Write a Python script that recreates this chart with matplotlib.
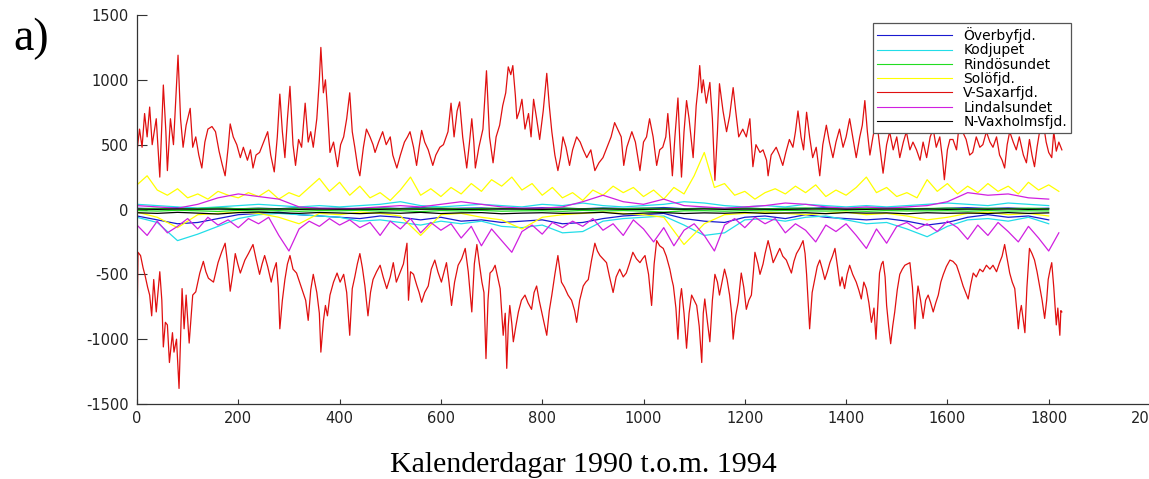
import matplotlib
matplotlib.use("Agg")
import matplotlib.pyplot as plt

plt.rcParams['axes.unicode_minus'] = False  # MATLAB-stil: vanligt bindestreck

# ── Flöden per sund, dag 0..1826 (1990 t.o.m. 1994) ──
names = ['Överbyfjd.', 'Kodjupet', 'Rindösundet', 'Solöfjd.',
         'V-Saxarfjd.', 'Lindalsundet', 'N-Vaxholmsfjd.']
colors = ['#1a1ad0', '#22dde8', '#22dd22', '#ffff00',
          '#e01010', '#d020e0', '#000000']

days20 = list(range(0, 1827, 20))   # samplingsdagar, tätare serier
days40 = list(range(0, 1827, 40))   # samplingsdagar, glesare serier

overby_in = [10, 5, 15, 8, 12, 5, 10, 6, 14, 8, 10, 5, 12, 8, 15, 6, 10, 12, 5, 8,
             14, 10, 6, 12, 8, 10, 15, 6, 10, 8, 12, 5, 10, 8, 14, 6, 10, 12, 8, 5,
             10, 14, 8, 12, 6, 10]
overby_out = [-50, -80, -110, -100, -70, -40, -30, -20, -40, -50,
              -60, -70, -50, -60, -80, -60, -90, -80, -100, -90,
              -80, -110, -100, -70, -50, -40, -30, -70, -90, -100,
              -60, -50, -70, -40, -60, -70, -80, -70, -90, -120,
              -100, -60, -40, -60, -50, -80]

kod_in = [40, 30, 20, 10, 20, 30, 40, 30, 20, 30, 20, 30, 40, 60, 30, 20, 30, 40, 30, 20,
          40, 30, 50, 30, 20, 30, 40, 60, 50, 30, 20, 30, 20, 40, 30, 20, 30, 20, 30, 40,
          50, 40, 30, 50, 40, 30]
kod_out = [-60, -100, -240, -190, -130, -70, -40, -30, -40, -50,
           -60, -90, -80, -100, -120, -90, -110, -90, -130, -140,
           -120, -180, -170, -90, -70, -60, -50, -120, -200, -180,
           -80, -70, -90, -60, -50, -80, -110, -100, -150, -210,
           -130, -80, -70, -90, -60, -110]

rind_in = [5, 10, 4, 8, 12, 6, 9, 5, 11, 7, 8, 4, 10, 6, 9, 12, 5, 8, 10, 6,
           7, 11, 5, 9, 6, 10, 8, 4, 9, 7, 10, 6, 8, 12, 5, 9, 7, 10, 6, 8,
           11, 5, 9, 7, 10, 6]
rind_out = [-8, -12, -6, -10, -15, -7, -11, -9, -14, -8, -10, -6, -12, -9, -16, -8, -11, -7, -13, -10,
            -9, -14, -7, -11, -8, -12, -20, -10, -9, -13, -8, -11, -7, -10, -12, -9, -14, -8, -11, -10,
            -9, -13, -8, -12, -10, -11]

solo_in = [190, 260, 150, 110, 160, 90, 120, 80, 140, 110,
           90, 130, 100, 150, 80, 130, 100, 170, 240, 140,
           210, 110, 180, 90, 130, 70, 150, 250, 110, 160,
           100, 170, 120, 200, 140, 230, 180, 250, 150, 200,
           110, 170, 90, 130, 70, 150, 110, 180, 130, 170,
           100, 150, 80, 170, 120, 260, 440, 170, 200, 110,
           140, 80, 130, 160, 120, 180, 130, 190, 100, 150,
           110, 170, 250, 130, 170, 100, 130, 90, 230, 140,
           200, 120, 180, 130, 200, 140, 180, 120, 210, 150,
           190, 140]
solo_out = [-20, -60, -140, -40, -30, -20, -30, -60, -110, -30,
            -40, -20, -30, -50, -200, -40, -30, -60, -80, -150,
            -60, -40, -30, -20, -30, -40, -60, -270, -110, -40,
            -30, -20, -30, -40, -30, -20, -40, -30, -50, -80,
            -60, -30, -20, -40, -30, -50]

sax_in = [(0, 450), (5, 620), (10, 480), (15, 740), (20, 560), (25, 790), (30, 500), (38, 700),
          (45, 250), (52, 960), (57, 600), (60, 300), (66, 700), (72, 500), (76, 800), (81, 1190),
          (86, 700), (91, 480), (97, 650), (105, 780), (110, 480), (116, 560), (122, 420), (128, 320),
          (134, 520), (140, 620), (148, 640), (155, 600), (162, 450), (168, 350), (174, 260), (180, 480),
          (184, 660), (190, 560), (197, 500), (204, 400), (210, 480), (218, 380), (224, 460), (229, 320),
          (235, 420), (242, 440), (250, 520), (258, 600), (264, 420), (271, 290), (277, 560), (282, 890),
          (287, 600), (292, 400), (297, 700), (302, 950), (308, 500), (313, 340), (319, 540), (325, 480),
          (332, 820), (338, 520), (343, 600), (348, 480), (355, 700), (360, 1000), (363, 1250), (368, 900),
          (372, 1000), (376, 780), (381, 440), (388, 520), (396, 330), (402, 500), (408, 560), (414, 700),
          (420, 900), (425, 600), (430, 480), (436, 320), (440, 260), (447, 480), (453, 620), (460, 560),
          (466, 500), (470, 440), (477, 520), (485, 600), (492, 500), (500, 560), (505, 420), (513, 320),
          (520, 420), (528, 520), (534, 560), (539, 600), (546, 480), (552, 340), (557, 480), (562, 610),
          (568, 520), (575, 460), (584, 340), (590, 420), (598, 480), (605, 500), (614, 600), (620, 820),
          (626, 560), (632, 760), (637, 830), (643, 560), (651, 320), (656, 500), (661, 700), (665, 520),
          (668, 320), (675, 480), (683, 620), (690, 1070), (696, 560), (703, 360), (709, 560), (716, 650),
          (722, 800), (728, 900), (733, 1100), (738, 1040), (742, 1110), (747, 880), (750, 700), (755, 760),
          (760, 850), (766, 620), (773, 740), (778, 560), (783, 850), (789, 700), (795, 540), (802, 760),
          (809, 1050), (814, 800), (819, 600), (825, 420), (831, 300), (836, 400), (841, 560), (847, 480),
          (854, 340), (860, 460), (868, 560), (875, 520), (881, 460), (888, 400), (896, 460), (904, 300),
          (912, 360), (920, 400), (928, 480), (936, 560), (943, 670), (949, 620), (956, 560), (961, 340),
          (967, 480), (977, 600), (984, 520), (993, 300), (1000, 520), (1006, 560), (1012, 700), (1019, 560),
          (1026, 340), (1032, 460), (1038, 480), (1044, 560), (1048, 740), (1053, 500), (1057, 260), (1062, 560),
          (1068, 860), (1072, 500), (1075, 250), (1080, 600), (1085, 840), (1090, 700), (1098, 400), (1104, 800),
          (1108, 950), (1111, 1110), (1115, 900), (1118, 1000), (1124, 820), (1131, 980), (1136, 700), (1141, 225),
          (1146, 600), (1150, 970), (1157, 760), (1164, 600), (1170, 720), (1177, 940), (1182, 760), (1188, 560),
          (1196, 620), (1203, 560), (1210, 700), (1216, 330), (1222, 500), (1230, 440), (1236, 460), (1243, 380),
          (1246, 260), (1252, 420), (1262, 480), (1268, 420), (1275, 340), (1281, 440), (1288, 540), (1295, 480),
          (1300, 600), (1305, 760), (1311, 560), (1316, 460), (1322, 750), (1328, 560), (1334, 400), (1341, 480),
          (1348, 260), (1354, 500), (1361, 650), (1367, 520), (1374, 400), (1380, 520), (1387, 620), (1394, 480),
          (1400, 560), (1407, 700), (1413, 560), (1420, 400), (1427, 560), (1432, 650), (1437, 840), (1442, 600),
          (1447, 420), (1453, 560), (1460, 700), (1466, 500), (1473, 280), (1480, 500), (1486, 600), (1493, 460),
          (1500, 560), (1506, 400), (1513, 520), (1519, 600), (1526, 460), (1532, 520), (1539, 460), (1546, 380),
          (1552, 520), (1559, 400), (1566, 560), (1572, 620), (1578, 480), (1585, 560), (1590, 400), (1594, 230),
          (1600, 460), (1605, 540), (1611, 540), (1618, 460), (1624, 680), (1630, 600), (1637, 540), (1644, 420),
          (1650, 440), (1657, 560), (1664, 480), (1670, 500), (1677, 600), (1684, 520), (1690, 480), (1697, 560),
          (1703, 420), (1708, 380), (1713, 320), (1718, 500), (1723, 600), (1730, 520), (1736, 460), (1742, 560),
          (1750, 420), (1756, 360), (1762, 540), (1767, 420), (1772, 330), (1777, 480), (1782, 600), (1788, 700),
          (1795, 520), (1800, 440), (1806, 400), (1810, 600), (1815, 450), (1820, 520), (1826, 460)]

sax_out = [(0, -920), (2, -330), (7, -355), (12, -450), (16, -510), (21, -600), (25, -660), (29, -820),
           (33, -540), (38, -790), (45, -480), (49, -700), (52, -1060), (56, -870), (60, -890), (64, -1180),
           (70, -950), (73, -1100), (78, -1000), (83, -1380), (89, -610), (93, -920), (97, -660), (103, -1030),
           (110, -660), (116, -635), (124, -490), (131, -400), (136, -480), (141, -530), (151, -560), (160, -410),
           (167, -330), (174, -260), (179, -420), (184, -630), (189, -500), (194, -340), (199, -420), (204, -490),
           (213, -390), (220, -340), (229, -270), (235, -380), (242, -500), (247, -420), (252, -355), (258, -440),
           (265, -560), (270, -470), (275, -410), (279, -600), (282, -920), (287, -700), (292, -540), (297, -420),
           (302, -355), (308, -460), (315, -490), (321, -560), (328, -640), (333, -700), (338, -855), (343, -620),
           (348, -500), (355, -640), (360, -800), (363, -1100), (368, -860), (372, -740), (376, -820), (381, -660),
           (388, -560), (395, -490), (401, -560), (408, -500), (414, -640), (420, -970), (425, -610), (430, -520),
           (435, -420), (440, -340), (445, -450), (450, -590), (456, -820), (461, -640), (466, -540), (473, -480),
           (480, -430), (486, -520), (493, -610), (500, -520), (506, -410), (512, -560), (519, -490), (526, -420),
           (533, -260), (536, -700), (540, -480), (546, -500), (552, -580), (557, -640), (562, -715), (568, -640),
           (575, -590), (581, -460), (588, -390), (594, -480), (601, -560), (607, -470), (611, -410), (616, -560),
           (621, -740), (627, -560), (634, -430), (641, -380), (648, -300), (654, -480), (661, -790), (666, -420),
           (671, -270), (676, -420), (681, -560), (685, -640), (689, -1150), (693, -700), (697, -490), (702, -470),
           (707, -430), (712, -520), (717, -610), (723, -970), (727, -800), (730, -1225), (733, -900), (736, -740),
           (740, -880), (743, -1020), (748, -900), (753, -790), (759, -700), (766, -660), (772, -720), (779, -770),
           (784, -640), (789, -590), (794, -700), (799, -790), (804, -880), (809, -970), (814, -780), (819, -660),
           (825, -500), (831, -355), (838, -560), (844, -600), (851, -660), (858, -700), (864, -780), (868, -870),
           (874, -700), (881, -590), (886, -560), (891, -540), (897, -400), (904, -260), (909, -320), (914, -355),
           (920, -380), (927, -410), (933, -520), (940, -640), (946, -520), (953, -460), (960, -520), (966, -490),
           (972, -420), (979, -330), (986, -380), (993, -410), (998, -380), (1003, -355), (1010, -500), (1016, -740),
           (1021, -420), (1026, -240), (1032, -280), (1039, -300), (1045, -360), (1052, -460), (1056, -540), (1059, -590),
           (1064, -760), (1068, -1000), (1072, -700), (1075, -610), (1080, -800), (1085, -1070), (1090, -800), (1095, -660),
           (1100, -700), (1105, -740), (1110, -900), (1115, -1180), (1118, -800), (1121, -690), (1126, -860), (1131, -1020),
           (1136, -700), (1141, -500), (1146, -560), (1150, -660), (1155, -560), (1160, -460), (1165, -540), (1170, -660),
           (1174, -800), (1177, -1000), (1182, -820), (1187, -715), (1190, -600), (1193, -490), (1198, -600), (1203, -770),
           (1208, -700), (1213, -660), (1217, -480), (1220, -330), (1226, -420), (1230, -500), (1236, -420), (1240, -340),
           (1246, -240), (1251, -320), (1256, -410), (1262, -360), (1269, -300), (1275, -360), (1282, -390), (1287, -440),
           (1292, -490), (1297, -400), (1302, -340), (1308, -300), (1315, -240), (1319, -340), (1322, -500), (1328, -920),
           (1333, -640), (1338, -540), (1343, -440), (1348, -390), (1353, -460), (1358, -540), (1363, -480), (1368, -410),
           (1373, -360), (1378, -300), (1383, -440), (1388, -590), (1392, -520), (1397, -610), (1402, -500), (1407, -430),
           (1413, -500), (1420, -560), (1425, -620), (1430, -690), (1435, -560), (1440, -610), (1445, -720), (1450, -870),
           (1455, -760), (1459, -1000), (1463, -700), (1466, -490), (1470, -420), (1473, -400), (1477, -520), (1480, -740),
           (1484, -900), (1488, -1035), (1492, -900), (1496, -790), (1501, -620), (1506, -500), (1511, -460), (1516, -430),
           (1521, -420), (1526, -410), (1531, -600), (1536, -920), (1539, -700), (1542, -590), (1547, -700), (1552, -840),
           (1557, -700), (1562, -660), (1567, -720), (1572, -790), (1577, -720), (1582, -660), (1587, -560), (1592, -500),
           (1598, -440), (1605, -390), (1611, -400), (1618, -430), (1624, -500), (1631, -590), (1636, -640), (1641, -690),
           (1646, -580), (1651, -490), (1657, -520), (1664, -460), (1670, -480), (1677, -430), (1684, -460), (1690, -430),
           (1697, -480), (1703, -410), (1708, -360), (1713, -270), (1718, -380), (1723, -490), (1728, -560), (1733, -610),
           (1737, -780), (1740, -920), (1743, -800), (1746, -740), (1750, -860), (1753, -950), (1757, -600), (1762, -300),
           (1767, -340), (1772, -390), (1777, -480), (1782, -590), (1787, -700), (1792, -840), (1796, -700), (1799, -540),
           (1803, -460), (1806, -410), (1810, -600), (1815, -890), (1818, -760), (1822, -970), (1824, -780), (1826, -790)]

lind_in = [30, 20, 10, 40, 90, 120, 100, 80, 20, 10, 5, 10, 20, 30, 20, 40, 60, 40, 20, 10,
           10, 20, 60, 110, 60, 40, 80, 30, 20, 10, 20, 30, 50, 40, 20, 10, 20, 10, 20, 30,
           60, 130, 110, 120, 90, 80]
lind_out = [-120, -200, -90, -180, -130, -70, -150, -60, -120, -80,
            -140, -70, -110, -60, -200, -320, -150, -90, -130, -70,
            -120, -80, -140, -100, -200, -90, -150, -70, -180, -100,
            -160, -110, -220, -130, -280, -150, -240, -330, -170, -120,
            -190, -100, -140, -90, -130, -70, -160, -110, -200, -80,
            -150, -250, -140, -280, -160, -110, -200, -320, -120, -70,
            -140, -60, -110, -70, -180, -110, -160, -250, -120, -170,
            -110, -200, -300, -150, -260, -130, -100, -150, -110, -170,
            -90, -140, -230, -120, -200, -100, -170, -250, -130, -220,
            -320, -180]

nvax_in = [3, 1, 4, 2, 3, 1, 2, 4, 1, 3, 2, 3, 1, 4, 2, 3, 1, 2, 4, 3,
           1, 2, 3, 4, 2, 1, 3, 2, 4, 1, 3, 2, 1, 3, 4, 2, 1, 3, 2, 4,
           1, 3, 2, 4, 1, 3]
nvax_out = [-25, -30, -22, -28, -35, -24, -20, -26, -30, -23, -27, -32, -25, -29, -22, -31, -26, -24, -33, -28,
            -25, -30, -27, -22, -35, -28, -24, -31, -26, -29, -23, -30, -27, -25, -32, -24, -28, -26, -33, -25,
            -29, -27, -31, -24, -30, -26]

series = [
    [(days40, overby_in), (days40, overby_out)],
    [(days40, kod_in), (days40, kod_out)],
    [(days40, rind_in), (days40, rind_out)],
    [(days20, solo_in), (days40, solo_out)],
    [tuple(zip(*sax_in)), tuple(zip(*sax_out))],
    [(days40, lind_in), (days20, lind_out)],
    [(days40, nvax_in), (days40, nvax_out)],
]

W, H = 1149, 479
fig = plt.figure(figsize=(W / 100, H / 100), dpi=100)
ax = fig.add_axes([137 / W, 1 - 404 / H, 1013 / W, 389 / H])

for name, col, parts in zip(names, colors, series):
    for i, (x, y) in enumerate(parts):
        ax.plot(x, y, color=col, lw=0.9, label=name if i == 0 else None)

ax.set_xlim(0, 2000)
ax.set_ylim(-1500, 1500)
ax.set_xticks(range(0, 2001, 200))
ax.set_yticks(range(-1500, 1501, 500))
for s in ['top', 'right']:
    ax.spines[s].set_visible(False)
for s in ['left', 'bottom']:
    ax.spines[s].set_color('#333333')
    ax.spines[s].set_linewidth(0.9)
ax.tick_params(axis='y', direction='in', length=7, width=0.8, pad=6,
               labelsize=10.5, colors='#333333', labelcolor='#222222')
ax.tick_params(axis='x', direction='in', length=3.5, width=0.8, pad=5,
               labelsize=10.5, colors='#333333', labelcolor='#222222')
for lab in ax.get_xticklabels() + ax.get_yticklabels():
    lab.set_family('DejaVu Sans')

leg = ax.legend(loc='upper left', bbox_to_anchor=(873 / W, 1 - 23 / H),
                bbox_transform=fig.transFigure, prop={'family': 'DejaVu Sans', 'size': 10},
                handlelength=5.4, handletextpad=0.8, labelspacing=0.02,
                borderpad=0.3, borderaxespad=0, fancybox=False, framealpha=1,
                edgecolor='#555555')
leg.get_frame().set_linewidth(0.9)
for line in leg.get_lines():
    line.set_linewidth(0.8)

fig.text(13 / W, 1 - 50 / H, 'a)', family='Liberation Serif', fontsize=33,
         va='baseline', ha='left')
fig.text(583 / W, 1 - 472 / H, 'Kalenderdagar 1990 t.o.m. 1994',
         family='Liberation Serif', fontsize=21.5, va='baseline', ha='center')

fig.savefig('out.png', dpi=100)
plt.close(fig)
